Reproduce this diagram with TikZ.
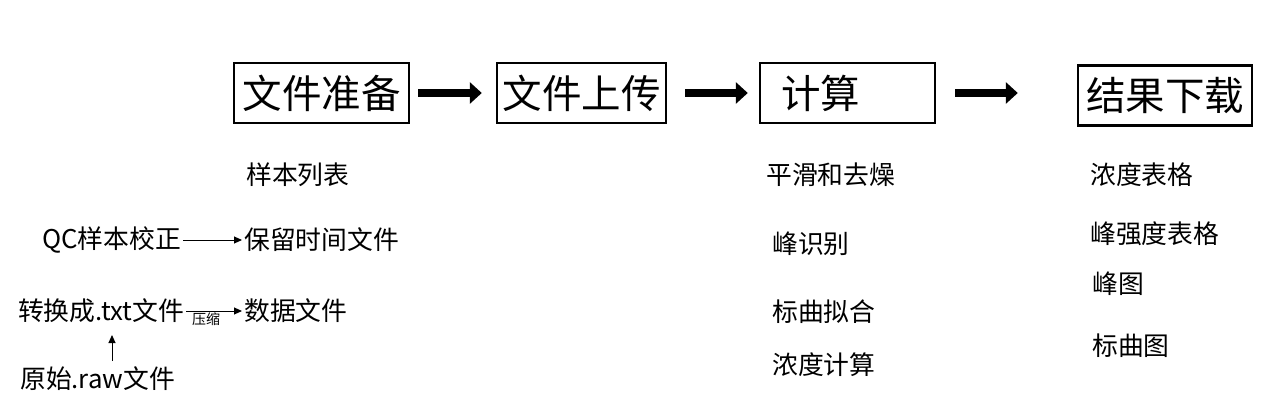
\documentclass[tikz,border=0pt]{standalone}
\usepackage{fontspec}
\setmainfont{Noto Sans CJK SC}
\usetikzlibrary{arrows.meta}
\tikzset{
  stagebox/.style={draw=black, line width=2.4pt, minimum height=60pt, inner sep=0pt, font=\fontsize{39.5}{41}\selectfont},
  bigarrow/.style={line width=7.5pt, -{Triangle[length=12pt,width=21pt]}},
  thinarrow/.style={line width=1pt, -{Triangle[length=8pt,width=7pt]}},
  item/.style={anchor=west, inner sep=0pt, font=\fontsize{25.8}{28}\selectfont},
  tiny/.style={anchor=west, inner sep=0pt, font=\fontsize{14}{16}\selectfont}
}
\begin{document}
\begin{tikzpicture}[x=1pt,y=-1pt]
\useasboundingbox[fill=white] (0,0) rectangle (1269,412);
% stage boxes
\node[stagebox, minimum width=175pt] (b1) at (321.5,93) {文件准备};
\node[stagebox, minimum width=169pt] (b2) at (581.5,93) {文件上传};
\node[stagebox, minimum width=175pt] (b3) at (847.5,93) {\hbox to 175pt{\hspace{21pt}计算\hfill}};
\node[stagebox, minimum width=174pt] (b4) at (1165,95.5) {结果下载};
% big arrows
\draw[bigarrow, shorten <=8pt, shorten >=14pt] (b1.east) -- (b2.west);
\draw[bigarrow, shorten <=18pt, shorten >=11pt] (b2.east) -- (b3.west);
\draw[bigarrow, shorten <=19pt, shorten >=59pt] (b3.east) -- (b3.east -| b4.west);
% column 1
\node[item] (l1) at (246,175) {样本列表};
\node[item] (qc) at (42,240) {QC样本校正};
\node[item] (rt) at (244,240) {保留时间文件};
\node[item] (txt) at (18,311) {转换成.txt文件};
\node[item] (data) at (244,311) {数据文件};
\node[item] (raw) at (20,379) {原始.raw文件};
\coordinate (upfoot) at (112,361);
\coordinate (uphead) at (112,335);
\draw[thinarrow, shorten <=2pt, shorten >=2pt] (qc.east) -- (rt.west);
\draw[thinarrow, shorten <=2pt, shorten >=2pt] (txt.east |- data.west) -- node[tiny, anchor=north, yshift=-1pt, xshift=-8pt] (zip) {压缩} (data.west);
\draw[thinarrow] (upfoot) -- (uphead);
% column 3
\node[item] (c1) at (766,175) {平滑和去燥};
\node[item] (c2) at (772,244) {峰识别};
\node[item] (c3) at (772,312) {标曲拟合};
\node[item] (c4) at (772,365) {浓度计算};
% column 4
\node[item] (d1) at (1090,175) {浓度表格};
\node[item] (d2) at (1090,234) {峰强度表格};
\node[item] (d3) at (1092,284) {峰图};
\node[item] (d4) at (1092,346) {标曲图};
\end{tikzpicture}
\end{document}
